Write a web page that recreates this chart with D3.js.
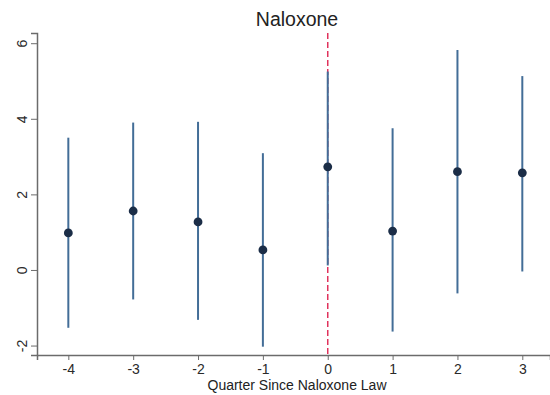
<!DOCTYPE html>
<html>
<head>
<meta charset="utf-8">
<script src="https://cdn.jsdelivr.net/npm/d3@7"></script>
<style>
  body { margin: 0; background: #fff; }
  text { font-family: Arial, "Liberation Sans", sans-serif; }
</style>
</head>
<body>
<div id="chart"></div>
<script>
// Data
var quarters = [-4, -3, -2, -1, 0, 1, 2, 3];
var estimates = [0.98, 1.56, 1.27, 0.53, 2.73, 1.03, 2.6, 2.57];
var lowerCI = [-1.53, -0.78, -1.32, -2.03, 0.12, -1.63, -0.62, -0.04];
var upperCI = [3.5, 3.9, 3.92, 3.09, 5.25, 3.75, 5.82, 5.13];
var yTicks = [-2, 0, 2, 4, 6];
var lawQuarter = 0;

var svgWidth = 550;
var svgHeight = 395;

var margin = { top: 33, right: 0, bottom: 40, left: 37 };
var width = svgWidth - margin.left - margin.right;
var height = svgHeight - margin.top - margin.bottom;

var svg = d3.select("#chart")
  .append("svg")
  .attr("width", svgWidth)
  .attr("height", svgHeight);

var chartGroup = svg.append("g")
  .attr("transform", `translate(${margin.left}, ${margin.top})`);

var rows = quarters.map(function(q, i) {
  return { q: q, est: estimates[i], lo: lowerCI[i], hi: upperCI[i] };
});

// Scales
var xScale = d3.scaleLinear()
  .domain([-4.483, 3.427])
  .range([0, width]);

var yScale = d3.scaleLinear()
  .domain([-2.25, 6.27])
  .range([height, 0]);

// plain hyphen for negatives, like the original
var fmt = d => String(d);

// Axes
var bottomAxis = d3.axisBottom(xScale).tickValues(quarters).tickFormat(fmt).tickSize(5).tickPadding(4);
var leftAxis = d3.axisLeft(yScale).tickValues(yTicks).tickFormat(fmt).tickSize(6);

var xAxisG = chartGroup.append("g")
  .attr("transform", `translate(0, ${height})`)
  .call(bottomAxis);

var yAxisG = chartGroup.append("g")
  .call(leftAxis);

[xAxisG, yAxisG].forEach(function(g) {
  g.select(".domain").attr("stroke", "#6b6b6b").attr("stroke-width", 1.5);
  g.selectAll(".tick line").attr("stroke", "#6b6b6b").attr("stroke-width", 1);
  g.selectAll(".tick text")
    .attr("fill", "#2a2a2a")
    .style("font-size", "14px");
});

// Y tick labels are turned on their side
yAxisG.selectAll(".tick text")
  .attr("x", null)
  .attr("dy", null)
  .attr("text-anchor", "middle")
  .attr("transform", "translate(-10, 0) rotate(-90)");

// Vertical reference line at the law quarter
chartGroup.append("line")
  .attr("x1", xScale(lawQuarter))
  .attr("x2", xScale(lawQuarter))
  .attr("y1", 0)
  .attr("y2", height)
  .attr("stroke", "#e0325c")
  .attr("stroke-width", 1.5)
  .attr("stroke-dasharray", "6,3");

// Confidence intervals
chartGroup.selectAll(".ci")
  .data(rows)
  .enter()
  .append("line")
  .attr("class", "ci")
  .attr("x1", d => xScale(d.q))
  .attr("x2", d => xScale(d.q))
  .attr("y1", d => yScale(d.lo))
  .attr("y2", d => yScale(d.hi))
  .attr("stroke", "#436d97")
  .attr("stroke-width", 2);

// Point estimates
chartGroup.selectAll(".pt")
  .data(rows)
  .enter()
  .append("circle")
  .attr("class", "pt")
  .attr("cx", d => xScale(d.q))
  .attr("cy", d => yScale(d.est))
  .attr("r", 4.4)
  .attr("fill", "#1b2d47");

// Title and axis label
svg.append("text")
  .attr("x", 297)
  .attr("y", 26)
  .attr("text-anchor", "middle")
  .attr("fill", "#222")
  .style("font-size", "19.5px")
  .text("Naloxone");

svg.append("text")
  .attr("x", 297)
  .attr("y", 390)
  .attr("text-anchor", "middle")
  .attr("fill", "#222")
  .style("font-size", "14px")
  .text("Quarter Since Naloxone Law");
</script>
</body>
</html>
